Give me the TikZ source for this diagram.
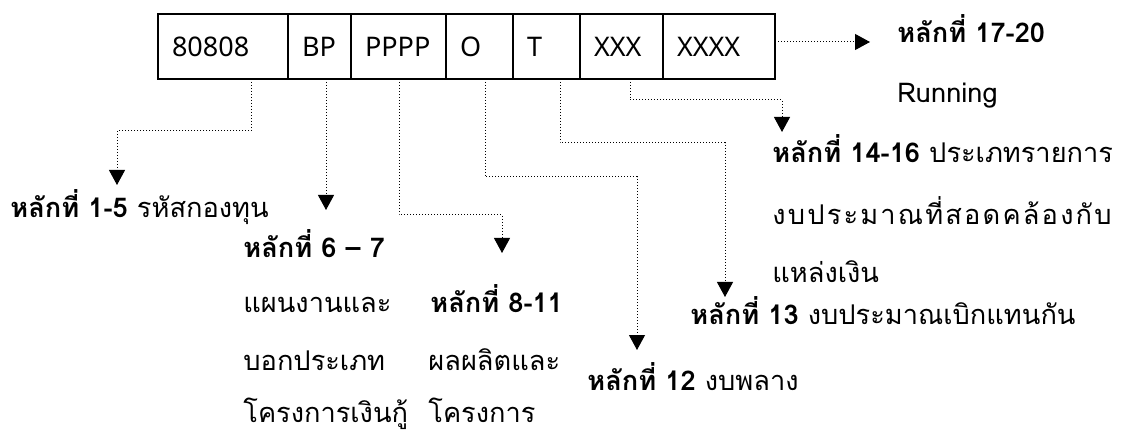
\documentclass[tikz,border=0pt]{standalone}
\usepackage{fontspec}
\setmainfont{Noto Sans}
\newfontfamily\thaifont[Script=Thai]{Loma}
\usetikzlibrary{arrows.meta,positioning}

\begin{document}
\begin{tikzpicture}[x=0.5pt,y=-0.5pt,>={Triangle[width=8pt,length=7.5pt]},
  cell/.style={draw,line width=1pt,outer sep=0pt,inner xsep=7pt,inner ysep=0pt,align=left,minimum height=32.5pt,font=\fontsize{13.5}{15}\selectfont},
  link/.style={->,densely dotted,line width=0.5pt},
  lbl/.style={anchor=base west,inner sep=0pt,font=\thaifont\fontsize{13.6}{16}\selectfont}]

    \useasboundingbox (0,0) rectangle (1128,432);

    % the code boxes
    \node[cell, text width=51pt] (c1) at (223,46.5) {80808};
    \node[cell, text width=17.5pt, right=0pt of c1] (c2) {BP};
    \node[cell, text width=33.5pt, right=0pt of c2] (c3) {PPPP};
    \node[cell, text width=19.5pt, right=0pt of c3] (c4) {O};
    \node[cell, text width=19.5pt, right=0pt of c4] (c5) {T};
    \node[cell, text width=27.5pt, right=0pt of c5] (c6) {XXX};
    \node[cell, text width=42pt, right=0pt of c6] (c7) {XXXX};

    % labels
    \node[lbl] (l1) at (10,218) {\textbf{หลักที่ 1-5} รหัสกองทุน};
    \node[lbl] (l2) at (243,258) {\textbf{หลักที่ 6 – 7}};
    \node[lbl] (l2a) at (243,313) {แผนงานและ};
    \node[lbl] (l2b) at (243,370) {บอกประเภท};
    \node[lbl] (l2c) at (243,422) {โครงการเงินกู้};
    \node[lbl] (l3) at (430,313) {\textbf{หลักที่ 8-11}};
    \node[lbl] (l3a) at (428,370) {ผลผลิตและ};
    \node[lbl] (l3b) at (428,422) {โครงการ};
    \node[lbl] (l4) at (587,390) {\textbf{หลักที่ 12} งบพลาง};
    \node[lbl] (l5) at (690,325) {\textbf{หลักที่ 13} งบประมาณเบิกแทนกัน};
    \node[lbl] (l6) at (772,163) {\textbf{หลักที่ 14-16} ประเภทรายการ};
    \node[lbl] (l6a) at (772,225) {\addfontfeature{LetterSpace=8}งบประมาณที่สอดคล้องกับ};
    \node[lbl] (l6b) at (772,283) {แหล่งเงิน};
    \node[lbl] (l7) at (897,43) {\textbf{หลักที่ 17-20}};
    \node[lbl] (l7a) at (897,103) {Running};

    % arrow ends
    \coordinate (t1) at (117,185);
    \coordinate (t2) at (326,210);
    \coordinate (t3) at (502,253);
    \coordinate (t4) at (637,350);
    \coordinate (t5) at (725,297);
    \coordinate (t6) at (782,132);
    \coordinate (t7) at (870,42);

    \draw[link] (251,0 |- c1.south) -- (251,131) -| (t1);
    \draw[link] (326,0 |- c2.south) -- (t2);
    \draw[link] (399,0 |- c3.south) -- (399,215) -| (t3);
    \draw[link] (485,0 |- c4.south) -- (485,177) -| (t4);
    \draw[link] (560,0 |- c5.south) -- (560,143) -| (t5);
    \draw[link] (630,0 |- c6.south) -- (630,100) -| (t6);
    \draw[link] (c7.east |- 0,42) -- (t7);
\end{tikzpicture}
\end{document}
